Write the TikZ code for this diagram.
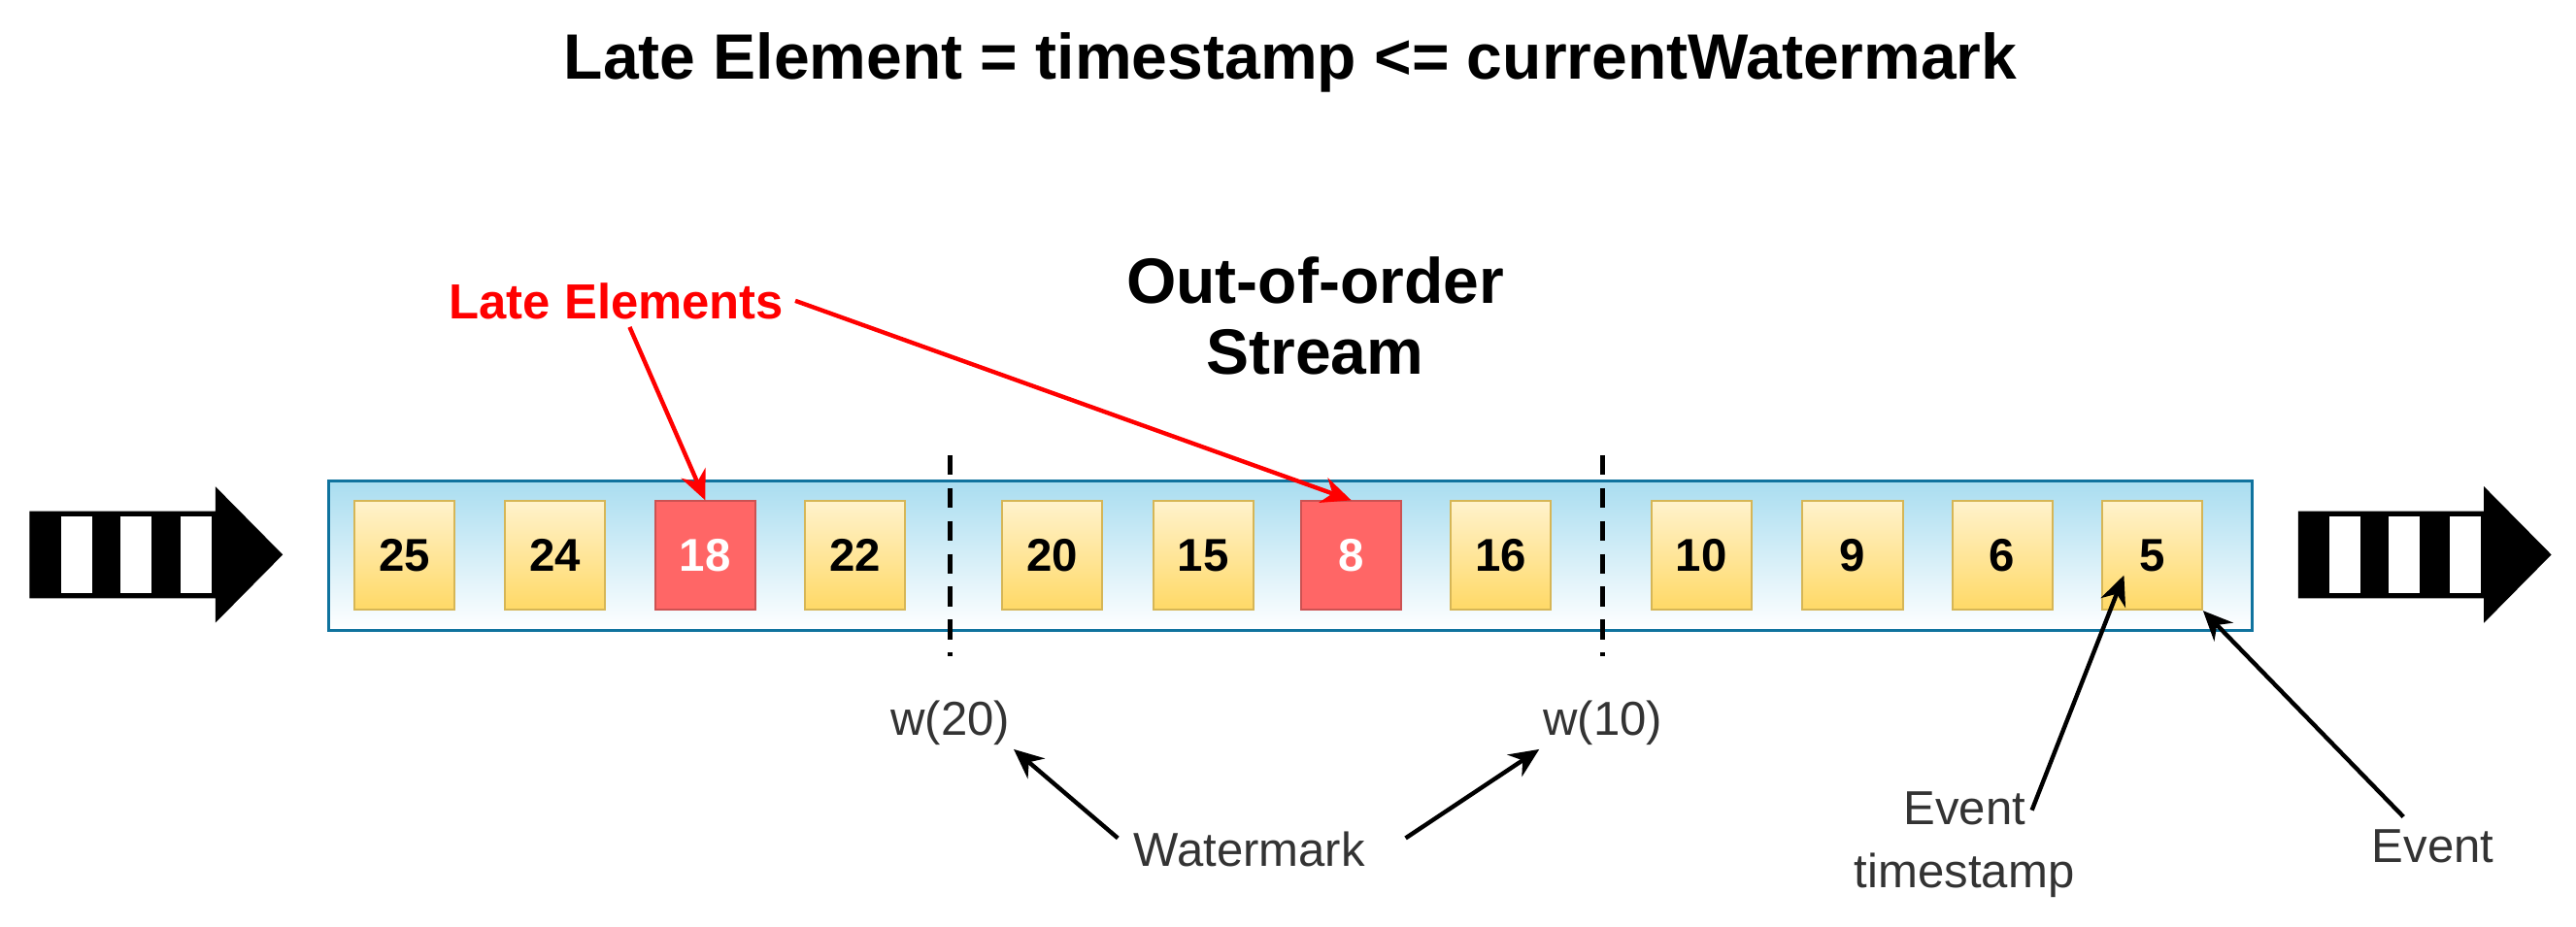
\documentclass[tikz,border=0pt]{standalone}
\usepackage{fontspec}
\setmainfont{Liberation Sans}
\usetikzlibrary{arrows.meta}
\definecolor{ybord}{HTML}{D6B656}
\definecolor{ytop}{HTML}{FFF2CC}
\definecolor{ybot}{HTML}{FFD966}
\definecolor{rfill}{HTML}{FF6666}
\definecolor{sbord}{HTML}{10739E}
\definecolor{stop}{HTML}{A9DDF0}
\definecolor{txt}{HTML}{333333}
\begin{document}
\begin{tikzpicture}[x=0.5pt,y=-0.5pt,
  ev/.style={draw=ybord,line width=0.6pt,top color=ytop,bottom color=ybot,minimum width=30.5pt,minimum height=33pt,inner sep=0pt,font=\fontsize{14}{16}\selectfont\bfseries},
  late/.style={draw=rfill!80!black,line width=0.6pt,fill=rfill,text=white,minimum width=30.5pt,minimum height=33pt,inner sep=0pt,font=\fontsize{14}{16}\selectfont\bfseries},
  lbl/.style={text=txt,font=\fontsize{14.5}{19}\selectfont,align=center,inner sep=1pt},
  bk/.style={-{Stealth[length=9pt,width=8pt]},line width=1.3pt,black},
  rd/.style={-{Stealth[length=9pt,width=8pt]},line width=1.3pt,red},
  wm/.style={line width=1.6pt,dash pattern=on 6pt off 4pt}]
\useasboundingbox (0,0) rectangle (1567,564);
\node[font=\fontsize{19.5}{22}\selectfont\bfseries] (title) at (785,38) {Late Element = timestamp <= currentWatermark};
\node[font=\fontsize{19.5}{21.5}\selectfont\bfseries,align=center] (oos) at (800,192) {Out-of-order\\Stream};
\node[font=\fontsize{15}{17}\selectfont\bfseries,text=red] (lateL) at (375,183) {Late Elements};
% stream arrows
\foreach \xo in {0,1380}{
  \fill (18+\xo,311) -- (131+\xo,311) -- (131+\xo,296) -- (172+\xo,337.5) -- (131+\xo,379) -- (131+\xo,364) -- (18+\xo,364) -- cycle;
  \foreach \s in {37,73,110}{\fill[white] (\s+\xo,314) rectangle (\s+19+\xo,361);}
}
% stream box
\node[draw=sbord,line width=1pt,top color=stop,bottom color=white,minimum width=585pt,minimum height=45.5pt,inner sep=0pt] (stream) at (785,338) {};
\foreach \v/\x in {25/246,24/337.5,22/520,20/640,15/732,16/913,10/1035,9/1127,6/1218,5/1309}{
  \node[ev] (e\v) at (\x,338) {\v};
}
\node[late] (e18) at (429,338) {18};
\node[late] (e8) at (822,338) {8};
% watermarks
\coordinate (d1t) at (578,277); \coordinate (d1b) at (578,399);
\coordinate (d2t) at (975,277); \coordinate (d2b) at (975,399);
\draw[wm] (d1t) -- (d1b);
\draw[wm] (d2t) -- (d2b);
\node[lbl] (w20) at (578,440) {w(20)};
\node[lbl] (w10) at (975,440) {w(10)};
\node[lbl] (wmk) at (760,517) {Watermark};
\node[lbl] (ets) at (1195,514) {Event\\timestamp};
\node[lbl] (evt) at (1480,515) {Event};
\coordinate (wa) at (680,510); \coordinate (wb) at (855,510);
\draw[bk] (wa) -- (w20.south east);
\draw[bk] (wb) -- (w10.south west);
\coordinate (tsa) at (1236,493); \coordinate (tsp) at (1292,350);
\draw[bk] (tsa) -- (tsp);
\coordinate (eva) at (1462,497);
\draw[bk] (eva) -- (e5.south east);
\draw[rd] (383,199) -- (e18.north);
\draw[rd] (lateL.east) -- (e8.north);
\end{tikzpicture}
\end{document}
